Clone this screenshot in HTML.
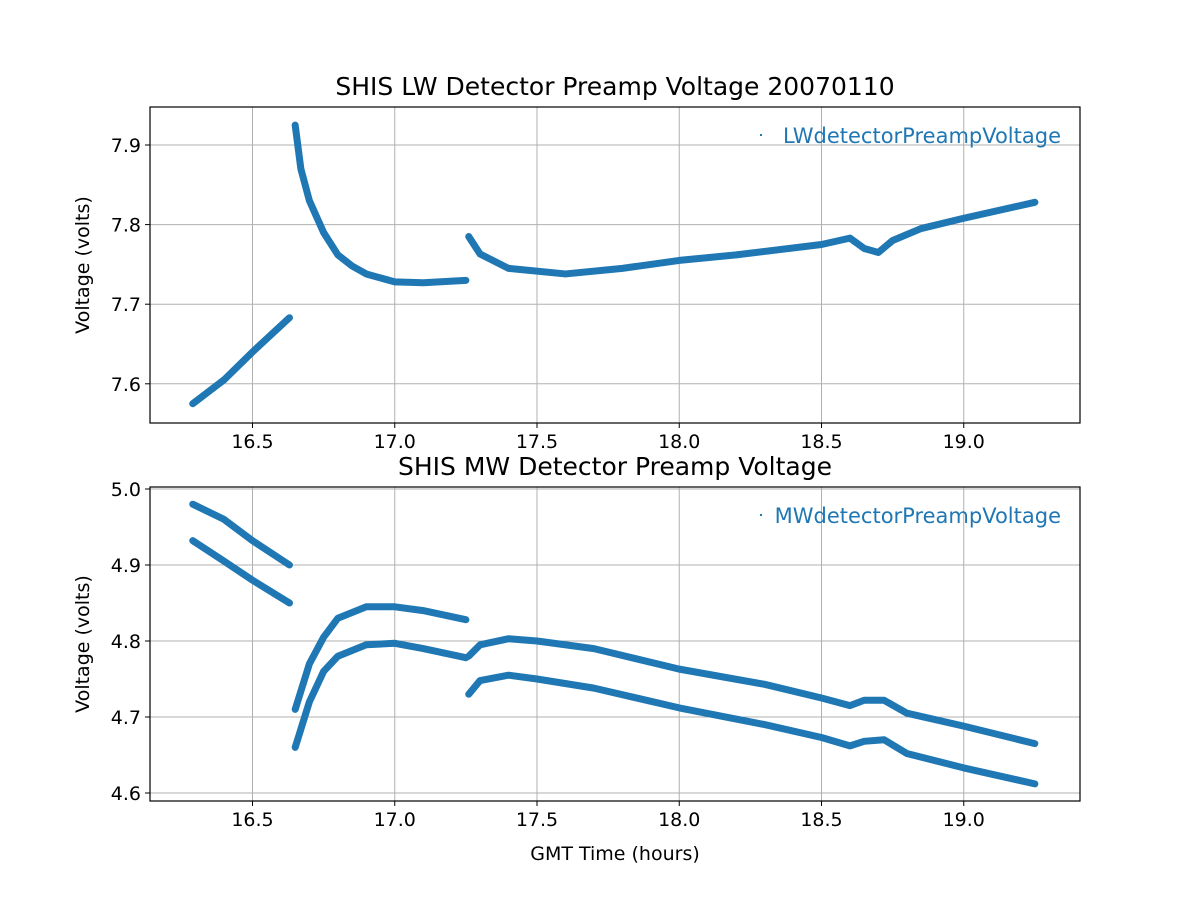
<!DOCTYPE html>
<html><head><meta charset="utf-8"><style>
html,body{margin:0;padding:0;background:#fff;}
svg text{font-family:"DejaVu Sans","Liberation Sans",sans-serif;}
</style></head><body>
<svg id="s" width="1200" height="900" xmlns="http://www.w3.org/2000/svg">
<rect width="1200" height="900" fill="#fff"/>
</svg>
<script>
const s=document.getElementById('s');
const NS='http://www.w3.org/2000/svg';
function el(t,a,txt){const e=document.createElementNS(NS,t);for(const k in a)e.setAttribute(k,a[k]);if(txt!==undefined)e.textContent=txt;s.appendChild(e);return e;}
const X=h=>252.5+(h-16.5)*284.5;
const L=150,R=1080;
function panel(top,bot,yf,yticks,title,label,series){
  [16.5,17,17.5,18,18.5,19].forEach(h=>{el('line',{x1:X(h),x2:X(h),y1:top,y2:bot,stroke:'#b0b0b0','stroke-width':1});
    el('line',{x1:X(h),x2:X(h),y1:bot,y2:bot+5,stroke:'#000'});
    el('text',{x:X(h),y:bot+25,'font-size':19,'text-anchor':'middle'},h.toFixed(1));});
  yticks.forEach(v=>{const y=yf(v);el('line',{x1:L,x2:R,y1:y,y2:y,stroke:'#b0b0b0','stroke-width':1});
    el('line',{x1:L-5,x2:L,y1:y,y2:y,stroke:'#000'});
    el('text',{x:L-9,y:y+7,'font-size':19,'text-anchor':'end'},v.toFixed(1));});
  series.forEach(seg=>{el('polyline',{points:seg.map(p=>X(p[0])+','+yf(p[1])).join(' '),fill:'none',stroke:'#1f77b4','stroke-width':7,'stroke-linejoin':'round','stroke-linecap':'round'});});
  el('rect',{x:L,y:top,width:R-L,height:bot-top,fill:'none',stroke:'#000','stroke-width':1.2});
  el('text',{x:615,y:top-12,'font-size':25,'text-anchor':'middle'},title);
  el('text',{x:89,y:(top+bot)/2,'font-size':19,'text-anchor':'middle',transform:`rotate(-90 89 ${(top+bot)/2})`},'Voltage (volts)');
  el('rect',{x:R-320,y:top+27,width:2,height:2,fill:'#1f77b4'});
  el('text',{x:R-19,y:top+36,'font-size':21,'text-anchor':'end',fill:'#1f77b4'},label);
}
const yt=v=>145+(7.9-v)*796;
panel(107,423,yt,[7.6,7.7,7.8,7.9],'SHIS LW Detector Preamp Voltage 20070110','LWdetectorPreampVoltage',[
 [[16.29,7.575],[16.4,7.605],[16.5,7.64],[16.63,7.683]],
 [[16.65,7.925],[16.67,7.87],[16.7,7.83],[16.75,7.79],[16.8,7.762],[16.85,7.748],[16.9,7.738],[17.0,7.728],[17.1,7.727],[17.25,7.73]],
 [[17.26,7.785],[17.3,7.763],[17.4,7.745],[17.6,7.738],[17.8,7.745],[18.0,7.755],[18.2,7.762],[18.5,7.775],[18.6,7.783],[18.65,7.77],[18.7,7.765],[18.75,7.78],[18.85,7.795],[19.0,7.808],[19.25,7.828]]
]);
const yb=v=>489+(5.0-v)*760;
panel(487,801,yb,[4.6,4.7,4.8,4.9,5.0],'SHIS MW Detector Preamp Voltage','MWdetectorPreampVoltage',[
 [[16.29,4.98],[16.4,4.96],[16.5,4.932],[16.63,4.9]],
 [[16.29,4.932],[16.4,4.905],[16.5,4.88],[16.63,4.85]],
 [[16.65,4.71],[16.7,4.77],[16.75,4.805],[16.8,4.83],[16.9,4.845],[17.0,4.845],[17.1,4.84],[17.25,4.828]],
 [[16.65,4.66],[16.7,4.72],[16.75,4.76],[16.8,4.78],[16.9,4.795],[17.0,4.797],[17.1,4.79],[17.25,4.778]],
 [[17.26,4.78],[17.3,4.795],[17.4,4.803],[17.5,4.8],[17.7,4.79],[18.0,4.763],[18.3,4.743],[18.5,4.725],[18.6,4.715],[18.65,4.722],[18.72,4.722],[18.8,4.705],[19.0,4.688],[19.25,4.665]],
 [[17.26,4.73],[17.3,4.748],[17.4,4.755],[17.5,4.75],[17.7,4.738],[18.0,4.712],[18.3,4.69],[18.5,4.673],[18.6,4.662],[18.65,4.668],[18.72,4.67],[18.8,4.652],[19.0,4.633],[19.25,4.612]]
]);
el('text',{x:615,y:860,'font-size':19,'text-anchor':'middle'},'GMT Time (hours)');
</script>
</body></html>
